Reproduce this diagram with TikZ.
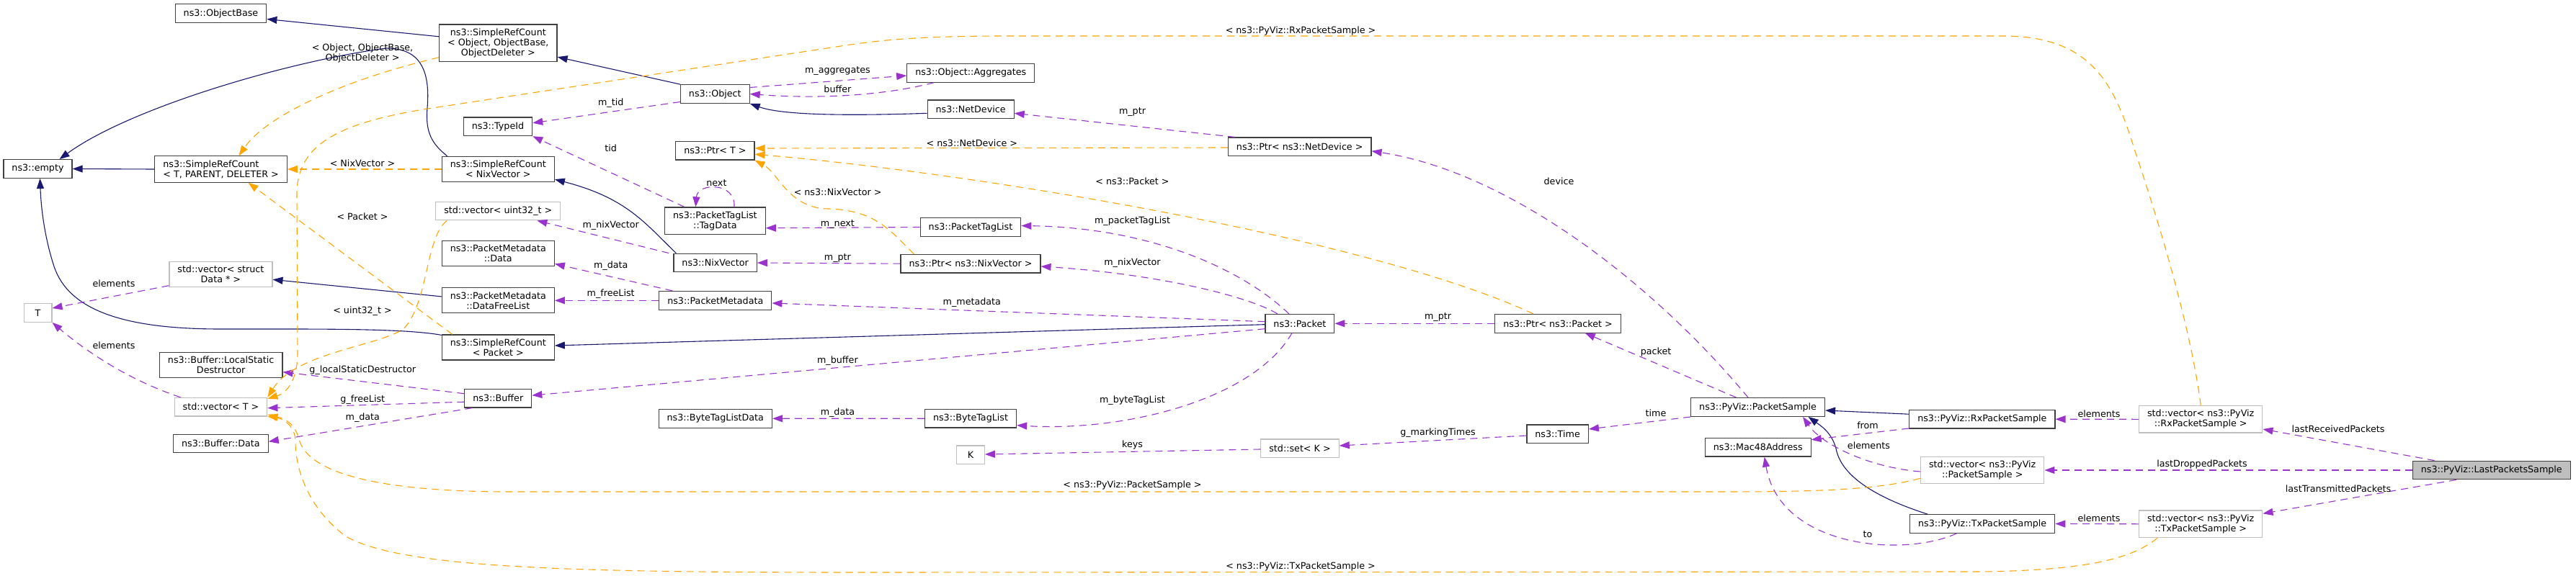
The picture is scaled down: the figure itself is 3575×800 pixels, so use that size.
\documentclass[tikz,border=0pt]{standalone}
\usepackage{fontspec}
\setmainfont{DejaVu Sans}
\usepackage{tikz}
\usetikzlibrary{arrows.meta}

\definecolor{inhblue}{HTML}{191970}
\definecolor{usepurple}{HTML}{9A32CD}
\definecolor{tplorange}{HTML}{FFA500}
\definecolor{extgray}{HTML}{BFBFBF}
\newcommand{\dvfont}{\fontsize{12.7pt}{14pt}\selectfont}

\tikzset{
  cls/.style={draw=black!75, line width=1.2pt, fill=white, inner xsep=11.5pt, inner ysep=5.6pt, minimum height=25.6pt, align=center, font=\dvfont},
  extcls/.style={cls, draw=extgray},
  curcls/.style={cls, fill=extgray},
  lbl/.style={inner sep=0pt, font=\dvfont},
  inhedge/.style={draw=inhblue, line width=1.1pt, -{Triangle[length=14pt,width=10pt]}},
  useedge/.style={draw=usepurple, line width=1.1pt, dash pattern=on 10pt off 7pt, -{Triangle[length=14pt,width=10pt]}},
  tpledge/.style={draw=tplorange, line width=1.1pt, dash pattern=on 10pt off 7pt, -{Triangle[length=14pt,width=10pt]}},
}

\begin{document}
\begin{tikzpicture}[x=1pt, y=-1pt]
    \useasboundingbox (0,0) rectangle (3575,800);
    % ノード
    \node[cls] (objbase) at (306.5,18.5) {ns3::ObjectBase};
    \node[cls] (srcobj) at (691.3,59.8) {ns3::SimpleRefCount\\< Object, ObjectBase,\\ObjectDeleter >};
    \node[cls] (object) at (992.3,130.5) {ns3::Object};
    \node[cls] (aggr) at (1347.3,101.3) {ns3::Object::Aggregates};
    \node[cls] (netdev) at (1347.1,151.7) {ns3::NetDevice};
    \node[cls] (ptrnetdev) at (1803.7,203.8) {ns3::Ptr< ns3::NetDevice >};
    \node[cls] (empty) at (52.5,234.5) {ns3::empty};
    \node[cls, align=left] (srct) at (306.6,235) {ns3::SimpleRefCount\\< T, PARENT, DELETER >};
    \node[cls] (typeid) at (691,175.8) {ns3::TypeId};
    \node[cls] (ptrt) at (992.4,209.2) {ns3::Ptr< T >};
    \node[cls] (srcnix) at (691.3,235) {ns3::SimpleRefCount\\< NixVector >};
    \node[extcls] (vecu32) at (691.3,293) {std::vector< uint32\_t >};
    \node[cls] (tagdata) at (992.4,306.7) {ns3::PacketTagList\\::TagData};
    \node[cls] (nixvec) at (992.6,365) {ns3::NixVector};
    \node[cls] (ptl) at (1347,315.5) {ns3::PacketTagList};
    \node[cls] (ptrnix) at (1347,366.2) {ns3::Ptr< ns3::NixVector >};
    \node[cls] (pmdata) at (691.3,351.7) {ns3::PacketMetadata\\::Data};
    \node[cls] (datafree) at (691.3,417.3) {ns3::PacketMetadata\\::DataFreeList};
    \node[cls] (pmeta) at (992.8,417.3) {ns3::PacketMetadata};
    \node[cls] (srcpkt) at (691.3,482.5) {ns3::SimpleRefCount\\< Packet >};
    \node[cls] (packet) at (1803.9,449.3) {ns3::Packet};
    \node[cls] (ptrpkt) at (2162,449.3) {ns3::Ptr< ns3::Packet >};
    \node[extcls] (vecdata) at (306.4,381) {std::vector< struct\\Data * >};
    \node[extcls, minimum width=38.7pt] (tT) at (52.6,434.5) {T};
    \node[cls] (lsd) at (306.7,506.7) {ns3::Buffer::LocalStatic\\Destructor};
    \node[extcls] (vecT) at (306.5,565.2) {std::vector< T >};
    \node[cls] (bufdata) at (306.4,616) {ns3::Buffer::Data};
    \node[cls] (buffer) at (691.3,553.2) {ns3::Buffer};
    \node[cls] (btld) at (992.8,581.3) {ns3::ByteTagListData};
    \node[cls] (btl) at (1347,581.2) {ns3::ByteTagList};
    \node[extcls, minimum width=38.7pt] (kK) at (1346.9,631.8) {K};
    \node[extcls] (setK) at (1804,622.7) {std::set< K >};
    \node[cls] (time) at (2161.6,602.7) {ns3::Time};
    \node[cls] (psample) at (2439.6,565.5) {ns3::PyViz::PacketSample};
    \node[cls] (mac) at (2439.7,621.2) {ns3::Mac48Address};
    \node[cls] (rx) at (2750.8,582.2) {ns3::PyViz::RxPacketSample};
    \node[cls] (tx) at (2751.2,727.5) {ns3::PyViz::TxPacketSample};
    \node[extcls] (vrx) at (3054.2,582.3) {std::vector< ns3::PyViz\\::RxPacketSample >};
    \node[extcls] (vps) at (2751.2,653) {std::vector< ns3::PyViz\\::PacketSample >};
    \node[extcls] (vtx) at (3054.2,727.8) {std::vector< ns3::PyViz\\::TxPacketSample >};
    \node[curcls] (lps) at (3457.8,653) {ns3::PyViz::LastPacketsSample};

    % 継承
    \draw[inhedge] ([yshift=9pt]srcobj.west) -- ([yshift=-8pt]objbase.east);
    \draw[inhedge] (object.north west) -- ([yshift=7pt]srcobj.south east);
    \draw[inhedge] ([yshift=-5.6pt]netdev.west) .. controls (1150,162) and (1080,158) .. (object.south east);
    \draw[inhedge] (srct.west) -- (empty.east);
    \draw[inhedge] ([xshift=8pt]srcnix.north west) .. controls (600,200) and (590,185) .. (593,150) .. controls (597,100) and (585,67) .. (536,67) .. controls (400,85) and (180,150) .. ([xshift=30pt]empty.north);
    \draw[inhedge] ([yshift=-1pt]srcpkt.north west) .. controls (560,456) and (450,457) .. (306,457) .. controls (170,457) and (95,430) .. (75,370) .. controls (62,330) and (57,290) .. ([xshift=3pt]empty.south);
    \draw[inhedge] ([yshift=5.4pt]datafree.west) -- ([yshift=-7.3pt]vecdata.east);
    \draw[inhedge] ([xshift=4pt]nixvec.north west) .. controls (895,310) and (870,275) .. ([yshift=4pt]srcnix.south east);
    \draw[inhedge] ([yshift=-1.4pt]packet.west) -- ([yshift=2.5pt]srcpkt.east);
    \draw[inhedge] ([yshift=7pt]rx.west) -- ([yshift=-4.5pt]psample.east);
    \draw[inhedge] ([xshift=25pt]tx.north west) .. controls (2600,690) and (2555,660) .. (2548,623) .. controls (2542,600) and (2525,590) .. ([xshift=70pt]psample.south);

    % メンバ
    \draw[useedge] ([yshift=-11pt]object.west) -- ([yshift=5pt]typeid.east);
    \draw[useedge] ([xshift=-42.7pt]tagdata.north) -- (typeid.south east);
    \draw[useedge] ([xshift=26.5pt]tagdata.north) .. controls (1022,253) and (968,253) .. ([xshift=-27pt]tagdata.north);
    \draw[useedge] (ptl.west) -- ([yshift=-10pt]tagdata.east);
    \draw[useedge] ([xshift=-6pt]nixvec.north west) -- ([xshift=-33pt]vecu32.south east);
    \draw[useedge] (ptrnix.west) -- (nixvec.east);
    \draw[useedge] ([xshift=19pt]pmeta.north west) -- ([yshift=3.4pt]pmdata.south east);
    \draw[useedge] (pmeta.west) -- (datafree.east);
    \draw[useedge] ([yshift=9pt]object.east) -- ([yshift=-3.7pt]aggr.west);
    \draw[useedge] ([xshift=38pt]aggr.south west) .. controls (1230,132) and (1140,138) .. (object.east);
    \draw[useedge] ([xshift=10pt]ptrnetdev.north west) -- ([yshift=-5.6pt]netdev.east);
    \draw[useedge] ([xshift=-15pt]packet.north) .. controls (1720,370) and (1590,316) .. ([yshift=2pt]ptl.east);
    \draw[useedge] ([xshift=-31pt]packet.north) .. controls (1730,410) and (1600,380) .. ([yshift=-3.8pt]ptrnix.east);
    \draw[useedge] ([yshift=2.6pt]packet.west) -- ([yshift=-3.7pt]pmeta.east);
    \draw[useedge] ([yshift=-7.4pt]packet.west) -- ([yshift=4pt]buffer.east);
    \draw[useedge] ([xshift=-11pt]packet.south) .. controls (1740,555) and (1560,600) .. ([yshift=-9.5pt]btl.east);
    \draw[useedge] (btl.west) -- (btld.east);
    \draw[useedge] (ptrpkt.west) -- (packet.east);
    \draw[useedge] ([xshift=-30pt]psample.north) -- ([xshift=-50pt]ptrpkt.south east);
    \draw[useedge] ([xshift=-13.6pt]psample.north) .. controls (2300,400) and (2100,240) .. ([yshift=-6pt]ptrnetdev.east);
    \draw[useedge] ([yshift=-13.5pt]psample.west) -- ([yshift=6.7pt]time.east);
    \draw[useedge] ([yshift=-2.3pt]time.west) -- ([yshift=3.7pt]setK.east);
    \draw[useedge] ([yshift=-1.3pt]setK.west) -- ([yshift=0.8pt]kK.east);
    \draw[useedge] ([yshift=-12.8pt]rx.west) -- ([yshift=10.5pt]mac.east);
    \draw[useedge] ([xshift=-35.8pt]tx.south) .. controls (2640,775) and (2470,760) .. ([xshift=9pt]mac.south);
    \draw[useedge] ([yshift=-2pt]vps.west) .. controls (2600,650) and (2530,620) .. ([xshift=62.4pt]psample.south);
    \draw[useedge] (vrx.west) -- (rx.east);
    \draw[useedge] (vtx.west) -- (tx.east);
    \draw[useedge] ([xshift=-79.3pt]lps.north) -- ([yshift=5.6pt]vrx.south east);
    \draw[useedge] (lps.west) -- (vps.east);
    \draw[useedge] ([xshift=-49pt]lps.south) -- ([yshift=14.5pt]vtx.east);
    \draw[useedge] ([yshift=-15.7pt]vecdata.west) -- ([yshift=6.5pt]tT.east);
    \draw[useedge] ([xshift=9pt]vecT.north west) .. controls (170,525) and (110,480) .. (tT.south east);
    \draw[useedge] ([yshift=6.5pt]buffer.west) -- ([yshift=-10pt]lsd.east);
    \draw[useedge] ([yshift=-5pt]buffer.west) -- ([yshift=-1.5pt]vecT.east);
    \draw[useedge] ([xshift=11pt]buffer.south west) -- ([yshift=2.7pt]bufdata.east);

    % テンプレート
    \draw[tpledge] ([yshift=-20pt]srcobj.west) .. controls (480,110) and (370,160) .. ([xshift=25pt]srct.north);
    \draw[tpledge] (srcnix.west) -- (srct.east);
    \draw[tpledge] ([xshift=15pt]srcpkt.north west) -- ([xshift=38pt]srct.south);
    \draw[tpledge] ([yshift=-1.2pt]ptrnetdev.west) -- ([yshift=3.2pt]ptrt.east);
    \draw[tpledge] ([xshift=-34pt]ptrpkt.north) .. controls (1900,330) and (1350,240) .. ([yshift=-5pt]ptrt.east);
    \draw[tpledge] ([xshift=19pt]ptrnix.north west) .. controls (1235,320) and (1215,292) .. (1150,290) .. controls (1095,290) and (1080,240) .. (ptrt.south east);
    \draw[tpledge] ([xshift=16pt]vecu32.south west) .. controls (590,330) and (595,420) .. (560,457) .. controls (520,482) and (410,490) .. (vecT.north east);
    \draw[tpledge] (vrx.north) .. controls (3040,450) and (2990,290) .. (2962,207) .. controls (2935,120) and (2905,50) .. (2780,50) -- (1400,50) .. controls (1280,50) and (1230,55) .. (1180,62) -- (600,150) .. controls (470,170) and (412,200) .. (412,270) -- (413,490) .. controls (413,525) and (400,545) .. ([yshift=-2pt]vecT.north east);
    \draw[tpledge] ([yshift=8pt]vps.south west) .. controls (2600,682) and (2500,683) .. (2380,683) -- (700,683) .. controls (500,682) and (425,650) .. (415,610) .. controls (410,590) and (395,580) .. (vecT.south east);
    \draw[tpledge] ([xshift=-60pt]vtx.south) .. controls (2960,775) and (2900,792) .. (2750,794) -- (1200,795) .. controls (800,795) and (560,790) .. (480,745) .. controls (420,700) and (410,640) .. (410,615) .. controls (410,595) and (400,585) .. ([yshift=3pt]vecT.south east);

    % 矢印のラベル
    \node[lbl, align=center] (lbobj) at (503,73.7) {< Object, ObjectBase,\\ObjectDeleter >};
    \node[lbl] (lbnixv) at (503,226.7) {< NixVector >};
    \node[lbl] (lbpkt) at (503,300.7) {< Packet >};
    \node[lbl] (lbu32) at (503,432) {< uint32\_t >};
    \node[lbl] (lbelem1) at (158,394) {elements};
    \node[lbl] (lbelem2) at (158,479.3) {elements};
    \node[lbl] (lblsd) at (503.3,514.3) {g\_localStaticDestructor};
    \node[lbl] (lbfree) at (503.3,555.3) {g\_freeList};
    \node[lbl] (lbbdata) at (503.3,580) {m\_data};
    \node[lbl] (lbmtid) at (847.7,143.3) {m\_tid};
    \node[lbl] (lbtid) at (847.7,206) {tid};
    \node[lbl] (lbnext) at (994.4,254) {next};
    \node[lbl] (lbmnix) at (847.7,312.7) {m\_nixVector};
    \node[lbl] (lbmdata) at (847.7,368.7) {m\_data};
    \node[lbl] (lbfreel) at (847.7,408.3) {m\_freeList};
    \node[lbl] (lbaggr) at (1162.4,98.7) {m\_aggregates};
    \node[lbl] (lbbuf) at (1162.4,123.3) {buffer};
    \node[lbl] (lbmnext) at (1162.4,311.7) {m\_next};
    \node[lbl] (lbmptr1) at (1162.4,359) {m\_ptr};
    \node[lbl] (lbptrnix) at (1162.6,266.7) {< ns3::NixVector >};
    \node[lbl] (lbmbuf) at (1162.4,500.7) {m\_buffer};
    \node[lbl] (lbbtdata) at (1162.4,572.7) {m\_data};
    \node[lbl] (lbrx) at (1805,42.7) {< ns3::PyViz::RxPacketSample >};
    \node[lbl] (lbmptr2) at (1571.5,155.7) {m\_ptr};
    \node[lbl] (lbnetdev) at (1348.8,198.3) {< ns3::NetDevice >};
    \node[lbl] (lbnspkt) at (1571.5,251.7) {< ns3::Packet >};
    \node[lbl] (lbptl) at (1571.5,307.3) {m\_packetTagList};
    \node[lbl] (lbmnix2) at (1571.5,365) {m\_nixVector};
    \node[lbl] (lbmeta) at (1348.8,420) {m\_metadata};
    \node[lbl] (lbbtl) at (1571.5,555.7) {m\_byteTagList};
    \node[lbl] (lbkeys) at (1571.5,618.3) {keys};
    \node[lbl] (lbps) at (1571.5,674.3) {< ns3::PyViz::PacketSample >};
    \node[lbl] (lbtx) at (1805,786.7) {< ns3::PyViz::TxPacketSample >};
    \node[lbl] (lbdev) at (2163.5,251.7) {device};
    \node[lbl] (lbmptr3) at (1995.5,441) {m\_ptr};
    \node[lbl] (lbpacket) at (2298,489) {packet};
    \node[lbl] (lbtime) at (2298,574) {time};
    \node[lbl] (lbmark) at (1995.5,601) {g\_markingTimes};
    \node[lbl] (lbfrom) at (2592,590.5) {from};
    \node[lbl] (lbelem3) at (2593.4,619) {elements};
    \node[lbl] (lbto) at (2592,741.7) {to};
    \node[lbl] (lbelem4) at (2913,574.3) {elements};
    \node[lbl] (lbelem5) at (2913,720) {elements};
    \node[lbl] (lblrx) at (3245,596) {lastReceivedPackets};
    \node[lbl] (lbldrop) at (3056,645) {lastDroppedPackets};
    \node[lbl] (lbltx) at (3245,678.3) {lastTransmittedPackets};
\end{tikzpicture}
\end{document}
